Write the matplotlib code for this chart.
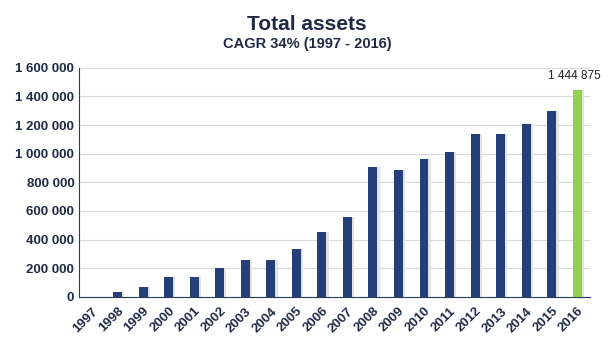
import numpy as np
import matplotlib.pyplot as plt
from matplotlib.ticker import FuncFormatter

plt.rcParams['font.family'] = ['Liberation Sans', 'DejaVu Sans']

years = [str(y) for y in range(1997, 2017)]
assets = [0, 35000, 70000, 140000, 140000, 203000, 258000, 258000, 335000, 454000,
          559000, 908000, 889000, 964000, 1013000, 1139000, 1139000, 1209000, 1300000, 1444875]

navy = '#253f7b'
green = '#92d050'
text_col = '#1f2a44'

fig = plt.figure(figsize=(6.14, 3.46), dpi=100)
ax = fig.add_axes([0.129, 0.142, 0.832, 0.662])

x = np.arange(len(years))
colors = [navy] * (len(years) - 1) + [green]
# soft shadow behind each bar
ax.bar(x + 0.09, assets, width=0.35, color='#e2e2e2', zorder=2)
ax.bar(x, assets, width=0.35, color=colors, zorder=3)

ax.set_xlim(-0.5, len(years) - 0.5)
ax.set_ylim(0, 1600000)
ax.set_yticks(np.arange(0, 1600001, 200000))
ax.yaxis.set_major_formatter(FuncFormatter(lambda v, p: f'{int(v):,}'.replace(',', ' ')))
ax.grid(axis='y', color='#d9d9d9', linewidth=0.8, zorder=0)
ax.set_axisbelow(True)

ax.set_xticks(x)
ax.set_xticklabels(years, rotation=45, ha='right', rotation_mode='anchor')
ax.tick_params(axis='both', length=0, labelsize=9.5, colors=text_col)
ax.tick_params(axis='x', pad=6)
for lab in ax.get_xticklabels() + ax.get_yticklabels():
    lab.set_fontweight('bold')

for s in ['top', 'right']:
    ax.spines[s].set_visible(False)
ax.spines['left'].set_color('#2b3a5a')
ax.spines['bottom'].set_color('#2b3a5a')

ax.annotate(f'{assets[-1]:,}'.replace(',', ' '), (x[-1], assets[-1]),
            xytext=(-2, 6), textcoords='offset points', ha='center', va='bottom',
            fontsize=8.5, color='#222222')

fig.text(0.5, 0.93, 'Total assets', ha='center', va='center', fontsize=15,
         fontweight='bold', color=text_col)
fig.text(0.5, 0.872, 'CAGR 34% (1997 - 2016)', ha='center', va='center', fontsize=10.5,
         fontweight='bold', color=text_col)

fig.savefig('out.png', dpi=100)
